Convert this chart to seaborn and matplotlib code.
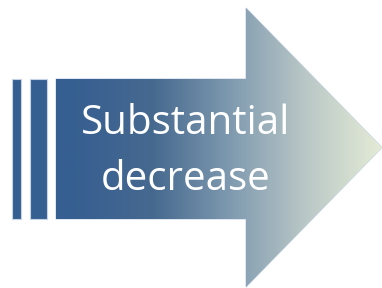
import numpy as np
import matplotlib
matplotlib.use("Agg")
import matplotlib.pyplot as plt
from matplotlib.patches import Polygon, Rectangle
import seaborn as sns

# -----------------------------
# Shape data (pixel units)
# -----------------------------
label_lines = ["Substantial", "decrease"]
stripe_lefts = [12, 30]
stripe_widths = [9, 17]
body_x = [56, 246]
body_y = [79, 219]
head_x = [246, 382]
head_y = [8, 287]
gradient_colors = ["#365f91", "#375f91", "#46698f", "#7e99af", "#b9c7c6", "#e4ebd6"]

sns.set_theme(style="white")
plt.rcParams["font.family"] = ["Open Sans", "DejaVu Sans"]

W, H = 382, 288
fig = plt.figure(figsize=(W / 100, H / 100), dpi=100)
ax = fig.add_axes([0, 0, 1, 1])
ax.set_xlim(0, W)
ax.set_ylim(H, 0)
ax.axis("off")

cmap = sns.blend_palette(gradient_colors, n_colors=256, as_cmap=True)
grad = np.linspace(0, 1, 512).reshape(1, -1)

mid = (head_y[0] + head_y[1]) / 2
arrow = Polygon(
    [
        (body_x[0], body_y[0]),
        (head_x[0], body_y[0]),
        (head_x[0], head_y[0]),
        (head_x[1], mid),
        (head_x[0], head_y[1]),
        (head_x[0], body_y[1]),
        (body_x[0], body_y[1]),
    ],
    closed=True, facecolor="none", edgecolor="#c6d3e6", linewidth=0.8,
)
ax.add_patch(arrow)
img = ax.imshow(grad, cmap=cmap, extent=[0, W, H, 0], aspect="auto", zorder=1)
img.set_clip_path(arrow)

for left, width in zip(stripe_lefts, stripe_widths):
    ax.add_patch(Rectangle((left, body_y[0]), width, body_y[1] - body_y[0],
                           facecolor="#365f91", edgecolor="#c6d3e6",
                           linewidth=0.8, zorder=2))

ax.text(186, 124, label_lines[0], color="white", fontsize=29,
        ha="center", va="center", zorder=3)
ax.text(186, 180, label_lines[1], color="white", fontsize=29,
        ha="center", va="center", zorder=3)

fig.savefig("out.png", dpi=100)
plt.close(fig)
